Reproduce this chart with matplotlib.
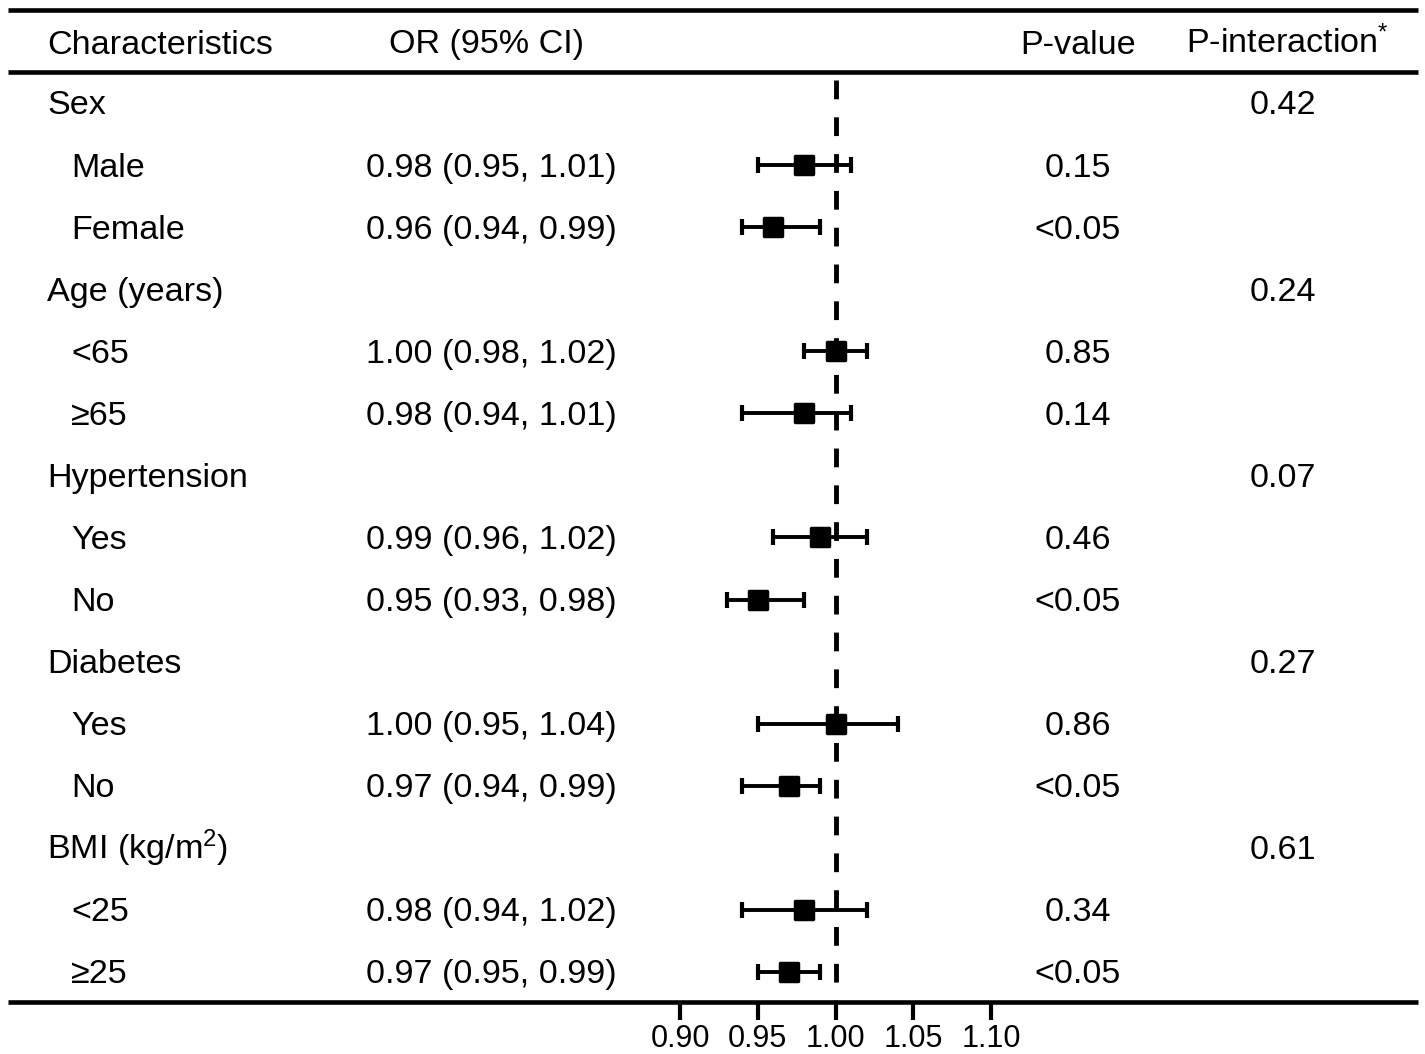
import matplotlib
matplotlib.use("Agg")
import matplotlib.pyplot as plt
from matplotlib.markers import MarkerStyle

plt.rcParams['font.family'] = ['Liberation Sans', 'DejaVu Sans']
plt.rcParams['mathtext.fontset'] = 'custom'
plt.rcParams['mathtext.rm'] = 'Liberation Sans'
plt.rcParams['mathtext.default'] = 'regular'
plt.rcParams['lines.scale_dashes'] = False

# ---------------- data ----------------
groups = ["Sex", "Age (years)", "Hypertension", "Diabetes", "BMI (kg/m$^{2}$)"]
subgroups = [["Male", "Female"], ["<65", "\u226565"], ["Yes", "No"], ["Yes", "No"], ["<25", "\u226525"]]
p_interaction = ["0.42", "0.24", "0.07", "0.27", "0.61"]
or_vals = [0.98, 0.96, 1.00, 0.98, 0.99, 0.95, 1.00, 0.97, 0.98, 0.97]
ci_low = [0.95, 0.94, 0.98, 0.94, 0.96, 0.93, 0.95, 0.94, 0.94, 0.95]
ci_high = [1.01, 0.99, 1.02, 1.01, 1.02, 0.98, 1.04, 0.99, 1.02, 0.99]
p_values = ["0.15", "<0.05", "0.85", "0.14", "0.46", "<0.05", "0.86", "<0.05", "0.34", "<0.05"]
x_ticks = [0.90, 0.95, 1.00, 1.05, 1.10]
x_tick_labels = ["0.90", "0.95", "1.00", "1.05", "1.10"]
null_value = 1.00
headers = ["Characteristics", "OR (95% CI)", "P-value", "P-interaction$^{*}$"]

# ---------------- layout (pixels) ----------------
W, H = 1425, 1054
fig = plt.figure(figsize=(W / 100, H / 100), dpi=100)
ax = fig.add_axes([0, 0, 1, 1])
ax.set_xlim(0, W)
ax.set_ylim(H, 0)
ax.axis('off')

FS = 24.6
row0, step = 103, 62.07
base_off = 11.5
x_group, x_sub, x_or_right, x_p, x_pint = 47, 71, 617, 1078, 1283

# horizontal rules
for yy in (10, 72, 1002):
    ax.plot([8, 1418], [yy, yy], color='black', lw=3.3, solid_capstyle='butt', zorder=3)

# headers
hy = 53.5
ax.text(47, hy, headers[0], fontsize=FS, ha='left', va='baseline')
ax.text(389, hy, headers[1], fontsize=FS, ha='left', va='baseline')
ax.text(x_p, hy, headers[2], fontsize=FS, ha='center', va='baseline')
ax.text(1186, hy, headers[3], fontsize=FS, ha='left', va='baseline')

# rows
row_ys = []
r = 0
k = 0
for g, subs, pint in zip(groups, subgroups, p_interaction):
    y = row0 + r * step
    ax.text(x_group, y + base_off, g, fontsize=FS, ha='left', va='baseline')
    ax.text(x_pint, y + base_off, pint, fontsize=FS, ha='center', va='baseline')
    r += 1
    for s in subs:
        y = row0 + r * step
        row_ys.append(y)
        ax.text(x_sub, y + base_off, s, fontsize=FS, ha='left', va='baseline')
        txt = f"{or_vals[k]:.2f} ({ci_low[k]:.2f}, {ci_high[k]:.2f})"
        ax.text(x_or_right, y + base_off, txt, fontsize=FS, ha='right', va='baseline')
        ax.text(x_p, y + base_off, p_values[k], fontsize=FS, ha='center', va='baseline')
        r += 1
        k += 1

# forest axes
x0_px, x1_px = 680, 991
top_px, bot_px = 72, 1002
fax = fig.add_axes([x0_px / W, (H - bot_px) / H, (x1_px - x0_px) / W, (bot_px - top_px) / H])
fax.set_xlim(x_ticks[0], x_ticks[-1])
fax.set_ylim(bot_px, top_px)
fax.patch.set_alpha(0)
for sp in fax.spines.values():
    sp.set_visible(False)
fax.set_yticks([])
fax.set_xticks(x_ticks)
fax.set_xticklabels(x_tick_labels)
fax.tick_params(axis='x', direction='out', length=13, width=3, labelsize=22, pad=3)

fax.vlines(null_value, 80, bot_px, colors='black', lw=3.5, linestyles=(0, (13.5, 13)), zorder=2)

xerr = [[o - l for o, l in zip(or_vals, ci_low)], [h - o for o, h in zip(or_vals, ci_high)]]
fax.errorbar(or_vals, row_ys, xerr=xerr, fmt='none', ecolor='black', elinewidth=2.8,
             capsize=5.5, capthick=3, zorder=3)
fax.plot(or_vals, row_ys, linestyle='none', marker=MarkerStyle('s', joinstyle='round'),
         markersize=12.5, markerfacecolor='black', markeredgecolor='black',
         markeredgewidth=2.5, zorder=4)

fig.savefig("out.png", dpi=100)
